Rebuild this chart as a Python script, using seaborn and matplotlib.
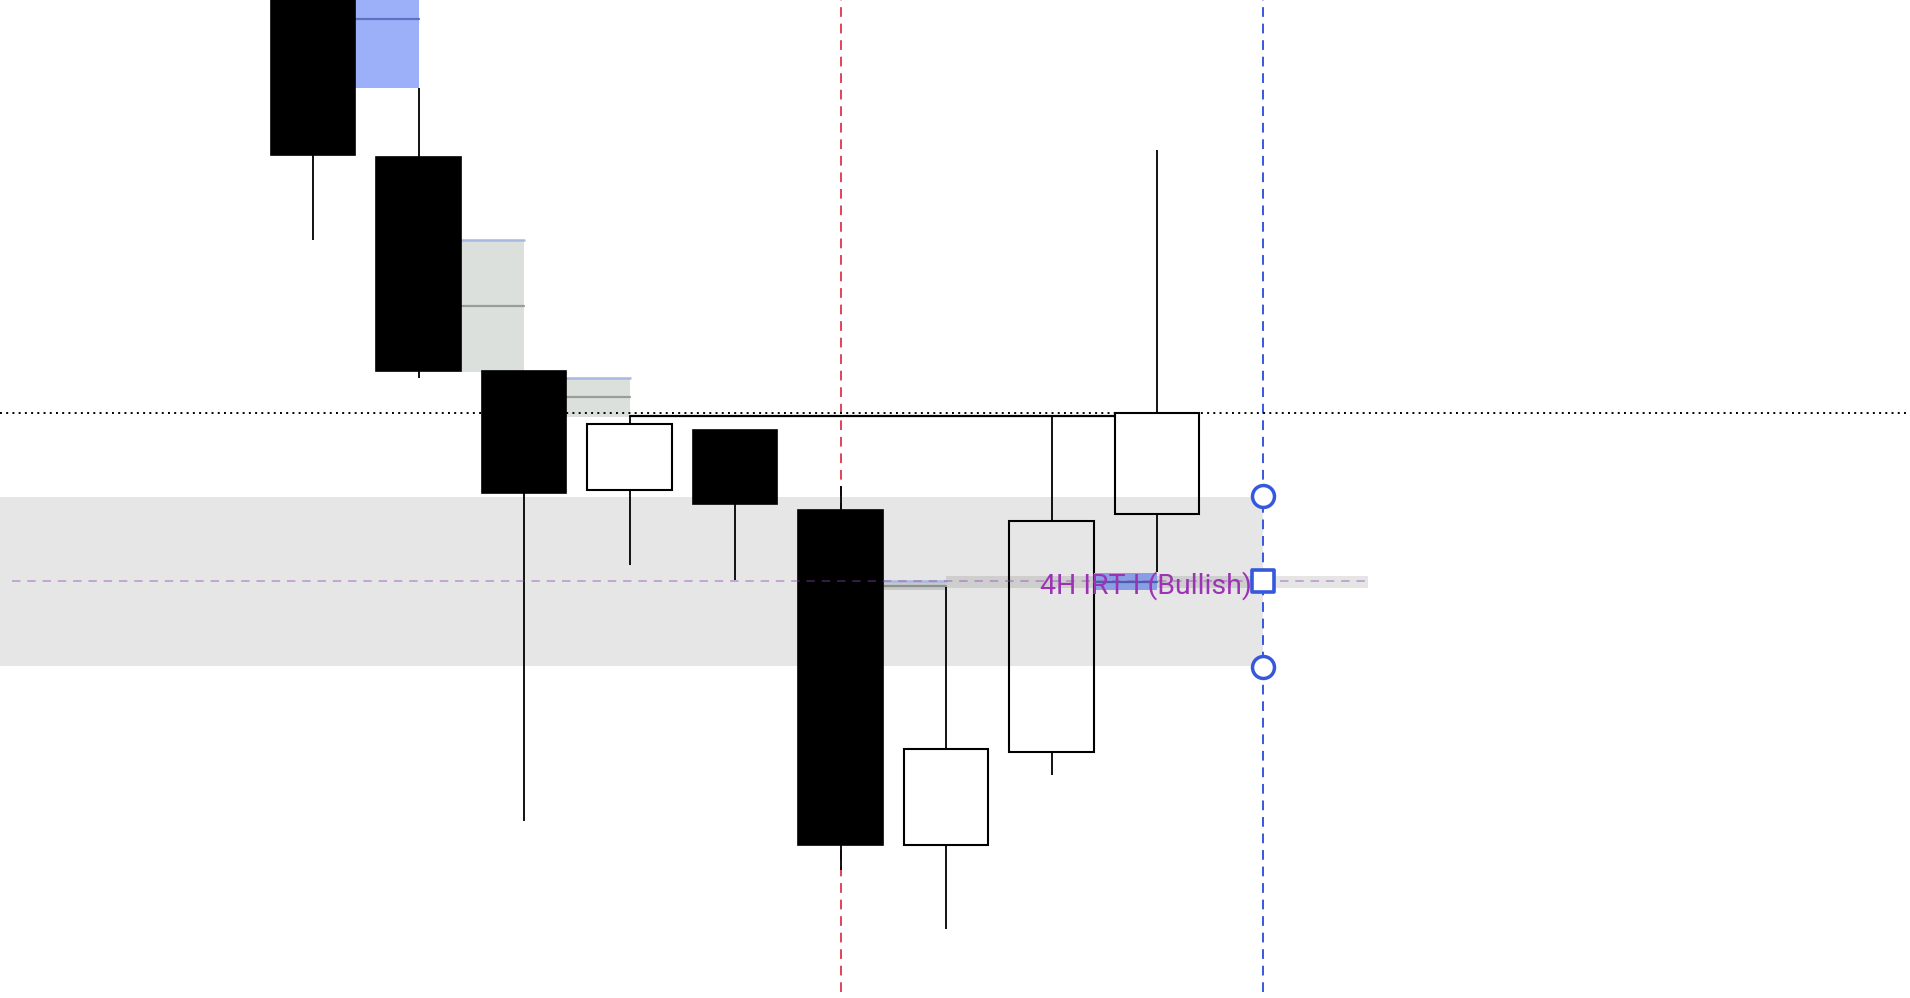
import matplotlib
matplotlib.use("Agg")
import matplotlib.pyplot as plt
import seaborn as sns
import numpy as np

# ---- data (price units) ----
idx = [0, 1, 2, 3, 4, 5, 6, 7, 8]
opens = [1040, 841, 627, 508, 568, 488, 153, 246, 484]
closes = [843, 627, 505, 574, 494, 153, 249, 477, 585]
highs = [1060, 910, 627, 582, 568, 512, 411, 582, 848]
lows = [758, 620, 177, 433, 418, 128, 69, 223, 426]

# imbalance boxes: (x_start, x_end, low, high, mid)
box_x0 = [0.4, 1.4, 2.4, 5.4, 7.4]
box_x1 = [1.0, 2.0, 3.0, 6.0, 8.0]
box_lo = [910, 626, 581, 408, 408]
box_hi = [1000, 758, 620, 417, 425]
box_mid = [979, 692, 601, 412, 416]
box_col = ["#9bb0f8", "#dce0dd", "#dce0dd", "#c6cac7", "#8a9ee6"]
box_line = ["#5a72c0", "#9a9e9b", "#9a9e9b", "#8f918f", "#4a5fa8"]

zone_lo, zone_hi, zone_x1 = 332, 501, 9.0
irt_level = 417
band_lo, band_hi, band_x0, band_x1 = 410, 422, 6.0, 10.0
dotted_level = 585
solid_level, solid_x0, solid_x1 = 582, 3.0, 7.6
red_x, blue_x = 5.0, 9.0
handle_y = [502, 417, 331]
label = "4H IRT I (Bullish)"

sns.set_theme(style="white")
plt.rcParams["font.family"] = ["Roboto", "DejaVu Sans"]

fig = plt.figure(figsize=(19.1, 9.98), dpi=100)
ax = fig.add_axes([0, 0, 1, 1])
ax.set_xlim(-313 / 105.52, (1910 - 313) / 105.52)
ax.set_ylim(0, 998)
ax.axis("off")

# zone
ax.bar(-3.5, zone_hi - zone_lo, width=zone_x1 + 3.5, bottom=zone_lo, align="edge",
       color="#e6e6e6", linewidth=0, zorder=1)

# imbalance boxes
for k, (x0, x1, lo, hi, mid, c, lc) in enumerate(zip(box_x0, box_x1, box_lo, box_hi, box_mid, box_col, box_line)):
    z = 3.5 if k == 4 else 2
    ax.bar(x0, hi - lo, width=x1 - x0, bottom=lo, align="edge", color=c, linewidth=0, zorder=z)
    ax.plot([x0, x1], [mid, mid], color=lc, lw=1.6, zorder=z + 0.1)
    if k in (1, 2, 3):
        ax.plot([x0, x1], [hi, hi], color="#a9b8de", lw=1.8, zorder=z + 0.1)

# gray band
ax.bar(band_x0, band_hi - band_lo, width=band_x1 - band_x0, bottom=band_lo, align="edge",
       color="black", alpha=0.1, linewidth=0, zorder=2)

# vertical time markers (behind candles)
ax.vlines(red_x, 6, 1000, color="#e04455", lw=1.4, linestyle=(0, (5, 3.5)), zorder=2.5)
ax.vlines(blue_x, 6, 1000, color="#3558dd", lw=1.4, linestyle=(0, (5, 3.5)), zorder=4)

# candles
bw = 0.8
for i, o, c, h, l in zip(idx, opens, closes, highs, lows):
    top, bot = max(o, c), min(o, c)
    ax.vlines(i, top, h, color="black", lw=1.3, zorder=3)
    ax.vlines(i, l, bot, color="black", lw=1.3, zorder=3)
    if c < o:
        ax.bar(i, top - bot, width=bw, bottom=bot, color="black", edgecolor="black",
               linewidth=1.2, zorder=3)
    else:
        ax.bar(i, top - bot, width=bw, bottom=bot, fill=False, edgecolor="black",
               linewidth=1.5, zorder=3)

# lines
ax.axhline(dotted_level, color="black", lw=1.4, linestyle=(0, (1, 2.2)), zorder=4)
ax.plot([solid_x0, solid_x1], [solid_level, solid_level], color="black", lw=1.6, zorder=4)
ax.plot([-2.85, band_x1], [irt_level, irt_level], color="#8e44ad", alpha=0.5, lw=1.1,
        linestyle=(0, (5.5, 4.5)), zorder=4)

ax.text(7.89, 412, label, color="#9c32b4", fontsize=20.5, ha="center", va="center", zorder=5)

# handles
sns.scatterplot(x=[blue_x, blue_x], y=[handle_y[0], handle_y[2]], marker="o", s=250,
                facecolor="white", edgecolor="#3558dd", linewidth=2.5, ax=ax, zorder=6, legend=False)
sns.scatterplot(x=[blue_x], y=[handle_y[1]], marker="s", s=230,
                facecolor="white", edgecolor="#3558dd", linewidth=2.6, ax=ax, zorder=6, legend=False)

fig.savefig("out.png", dpi=100)
